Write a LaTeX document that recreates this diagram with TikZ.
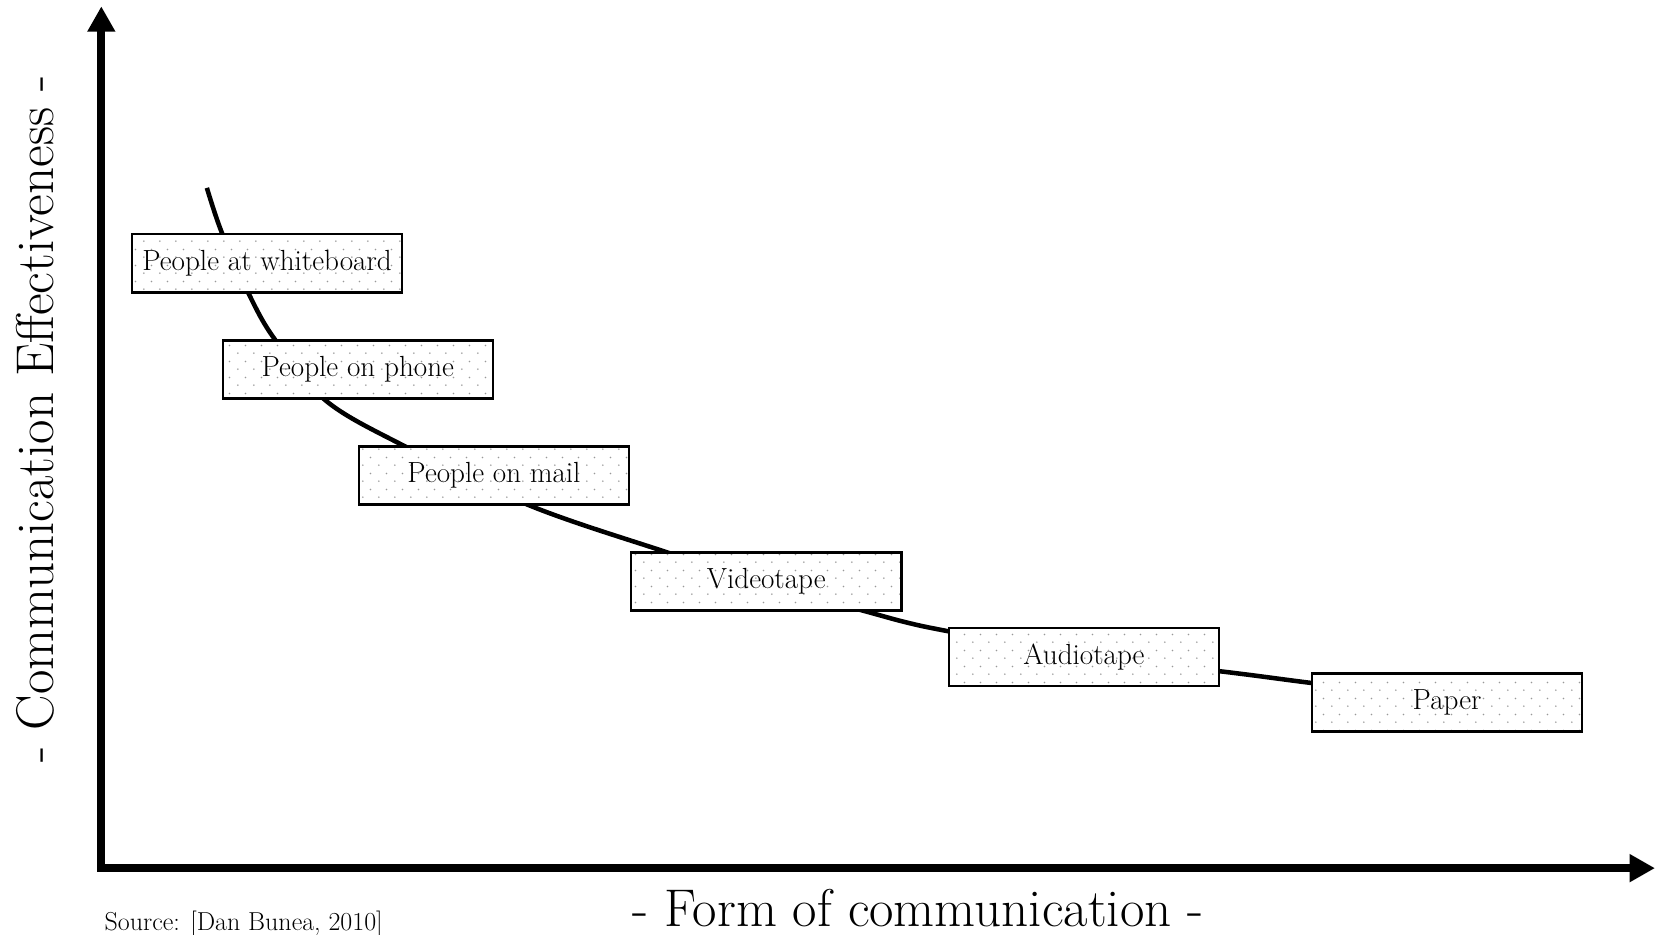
\documentclass[tikz,border=0pt]{standalone}
\usepackage{fontspec}
\usetikzlibrary{arrows.meta,patterns.meta}
\tikzdeclarepattern{
  name=sdots,
  type=uncolored,
  bounding box={(0pt,0pt) and (14.8pt,15.2pt)},
  tile size={(14.8pt,15.2pt)},
  code={\fill (3.7pt,3.8pt) circle (0.85pt); \fill (11.1pt,11.4pt) circle (0.85pt);}
}
\tikzset{
  formbox/.style={draw, line width=2.2pt, minimum width=256pt, minimum height=55pt,
    inner sep=0pt, preaction={fill=white}, pattern=sdots, pattern color=black!40,
    font=\fontsize{27.6}{32}\selectfont},
  axis/.style={line width=7.5pt, -{Triangle[length=24pt,width=25pt]}},
  curveline/.style={line width=4.3pt},
  biglabel/.style={font=\fontsize{50.3}{55}\selectfont, inner sep=0pt}
}
\begin{document}
\begin{tikzpicture}[x=1pt,y=-1pt]
\useasboundingbox (0,0) rectangle (1568,885);
\coordinate (ybot) at (96,826);
\coordinate (ytop) at (96,6);
\coordinate (xleft) at (92,822.5);
\coordinate (xright) at (1568,822.5);
\draw[axis] (ybot) -- (ytop);
\draw[axis] (xleft) -- (xright);
\draw[curveline] plot[smooth, tension=0.55] coordinates {
  (196,178) (210,220) (236,279) (260,321) (308,379) (380,421) (502,479)
  (628,522) (726,553) (823,580) (860,590) (898,598) (1027,622) (1156,636)
  (1242,647) (1320,656)};
\node[formbox] (wb) at (253,249.5) {People at whiteboard};
\node[formbox] (ph) at (339,350) {People on phone};
\node[formbox] (ml) at (468,450.5) {People on mail};
\node[formbox] (vt) at (726,551) {Videotape};
\node[formbox] (at) at (1027,622.5) {Audiotape};
\node[formbox] (pp) at (1371,665.5) {Paper};
\node[biglabel, rotate=90] (ylab) at (33,397) {- Communication Effectiveness -};
\node[biglabel] (xlab) at (870,860) {- Form of communication -};
\node[font=\fontsize{24.6}{28}\selectfont, anchor=base west, inner sep=0pt] (src) at (99,882) {Source: [Dan Bunea, 2010]};
\end{tikzpicture}
\end{document}
